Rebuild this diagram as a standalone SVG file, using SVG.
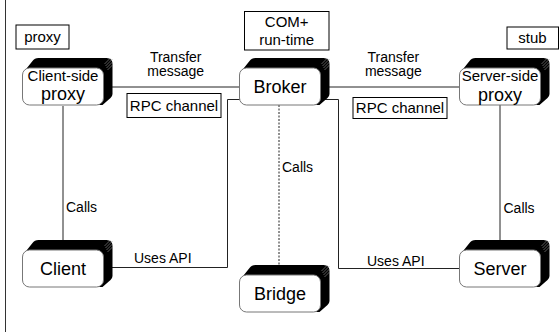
<svg xmlns="http://www.w3.org/2000/svg" xmlns:xlink="http://www.w3.org/1999/xlink" width="559" height="332" viewBox="0 0 559 332">
<style>
text{font-family:"Liberation Sans",Arial,sans-serif;fill:#000}
.n{font-size:18px;text-anchor:middle}
.ns{font-size:15px;text-anchor:middle}
.l{font-size:14px}
.lc{font-size:14px;text-anchor:middle}
.b{font-size:15px;text-anchor:middle}
.box{fill:#fff;stroke:#000;stroke-width:1}
.c{fill:none;stroke:#222;stroke-width:1}
.face{fill:#fff;stroke:#777;stroke-width:1}
.ext{fill:#000}
.h{stroke:#999;stroke-width:0.6}
</style>
<defs>
<g id="box3d">
<path class="ext" d="M2,3 L10,-7 Q12,-10 16,-10 L84,-10 Q90,-10 90,-4 L90,26 Q90,28 88,30 L80,37 L76,37 L76,2 Z"/>
<line class="h" x1="82" y1="-4" x2="88" y2="-10"/>
<line class="h" x1="83" y1="-2" x2="90" y2="-9"/>
<line class="h" x1="84" y1="0" x2="90" y2="-6"/>
<line class="h" x1="85" y1="2" x2="90" y2="-3"/>
<rect class="face" x="0" y="0" width="81" height="37" rx="7" ry="7"/>
</g>
</defs>
<line x1="5.5" y1="0" x2="5.5" y2="332" stroke="#333" stroke-width="1"/>
<g id="connectors">
<path class="c" d="M112,87 H240"/>
<path class="c" d="M329,87 H460"/>
<path class="c" d="M63,106 V250"/>
<path class="c" d="M500,105 V250"/>
<path class="c" d="M103,267.5 H227.5 V99.5 H240"/>
<path class="c" d="M320,99.5 H338.5 V268.5 H460"/>
<path class="c" d="M279,105 V275" stroke-dasharray="2,1.5"/>
</g>
<g id="node-client-side-proxy">
<use xlink:href="#box3d" href="#box3d" transform="translate(22.5,68)"/>
<text class="ns" x="63" y="81">Client-side</text>
<text class="n" x="63" y="100">proxy</text>
</g>
<g id="node-broker">
<use xlink:href="#box3d" href="#box3d" transform="translate(239.5,68)"/>
<text class="n" x="280" y="93">Broker</text>
</g>
<g id="node-server-side-proxy">
<use xlink:href="#box3d" href="#box3d" transform="translate(459.5,68)"/>
<text class="ns" x="500" y="81">Server-side</text>
<text class="n" x="500" y="101">proxy</text>
</g>
<g id="node-client">
<use xlink:href="#box3d" href="#box3d" transform="translate(22.5,250)"/>
<text class="n" x="63" y="275">Client</text>
</g>
<g id="node-server">
<use xlink:href="#box3d" href="#box3d" transform="translate(459.5,250)"/>
<text class="n" x="500" y="275">Server</text>
</g>
<g id="node-bridge">
<use xlink:href="#box3d" href="#box3d" transform="translate(239.5,275)"/>
<text class="n" x="280" y="300">Bridge</text>
</g>
<g id="label-proxy">
<rect class="box" x="16" y="25" width="53" height="24"/>
<text class="b" x="42.5" y="42">proxy</text>
</g>
<g id="label-complus">
<rect class="box" x="244.5" y="11.5" width="84.5" height="38.5"/>
<text class="b" x="286.7" y="27">COM+</text>
<text class="b" x="286.7" y="45">run-time</text>
</g>
<g id="label-stub">
<rect class="box" x="507" y="27" width="51.5" height="22"/>
<text class="b" x="532.5" y="43">stub</text>
</g>
<g id="label-rpc-left">
<rect class="box" x="127" y="93.5" width="94" height="24"/>
<text class="b" x="174" y="110.5">RPC channel</text>
</g>
<g id="label-rpc-right">
<rect class="box" x="353" y="97.5" width="94" height="21"/>
<text class="b" x="400" y="113">RPC channel</text>
</g>
<g id="edge-labels">
<text class="lc" x="175.7" y="61.5">Transfer</text>
<text class="lc" x="175.7" y="76">message</text>
<text class="lc" x="393.3" y="61.5">Transfer</text>
<text class="lc" x="393.3" y="76">message</text>
<text class="l" x="66" y="211.5">Calls</text>
<text class="l" x="282" y="171.5">Calls</text>
<text class="l" x="503.5" y="212.5">Calls</text>
<text class="l" x="134" y="262.5">Uses API</text>
<text class="l" x="367" y="265.5">Uses API</text>
</g>
</svg>
